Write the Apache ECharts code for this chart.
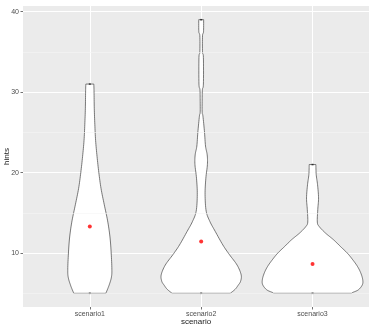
<!DOCTYPE html>
<html>
<head>
<meta charset="utf-8">
<script src="https://cdn.jsdelivr.net/npm/echarts@6/dist/echarts.min.js"></script>
<style>
  html, body { margin: 0; padding: 0; background: #fff; }
  #chart { width: 369px; height: 330px; }
</style>
</head>
<body>
<div id="chart"></div>
<script>
// Groups on the x axis
const categories = ['scenario1', 'scenario2', 'scenario3'];

// Violin outlines: hint levels and the half width of the violin at each level (x-axis units)
const scenario1Levels = [5, 6, 7, 8, 10, 12, 14, 16, 18, 20, 22, 24, 26, 28, 30, 31];
const scenario1Half   = [0.144, 0.173, 0.194, 0.198, 0.192, 0.181, 0.160, 0.130, 0.101, 0.081, 0.065, 0.052, 0.045, 0.040, 0.038, 0.036];

const scenario2Levels = [5, 5.5, 6, 6.5, 7.3, 8.5, 9.8, 11, 12.7, 13.9, 15.2, 17.3, 19.3, 21, 22.2, 23.3, 25, 27, 27.5, 29, 30.3, 31, 34.3, 35, 37, 37.5, 39];
const scenario2Half   = [0.261, 0.305, 0.332, 0.354, 0.359, 0.323, 0.254, 0.195, 0.126, 0.079, 0.045, 0.035, 0.042, 0.056, 0.054, 0.039, 0.030, 0.016, 0.009, 0.009, 0.011, 0.020, 0.020, 0.012, 0.012, 0.021, 0.022];

const scenario3Levels = [5, 5.1, 5.43, 6.05, 6.67, 7.5, 8.33, 9.17, 10, 10.8, 11.65, 12.5, 13.3, 13.85, 15.4, 16.85, 18.5, 19.75, 21];
const scenario3Half   = [0.350, 0.359, 0.411, 0.447, 0.451, 0.434, 0.404, 0.361, 0.312, 0.252, 0.189, 0.115, 0.060, 0.043, 0.047, 0.054, 0.045, 0.033, 0.030];

// Mean number of hints per scenario (red dots)
const meanHints = [13.3, 11.45, 8.63];
// Range of the observations (small dark marks at both ends)
const minHints = [5, 5, 5];
const maxHints = [31, 39, 21];

// Axis ticks
const yMajorTicks = [10, 20, 30, 40];
const yMinorTicks = [5, 15, 25, 35];
const xTicks = [1, 2, 3];

const profiles = [
  { levels: scenario1Levels, half: scenario1Half },
  { levels: scenario2Levels, half: scenario2Half },
  { levels: scenario3Levels, half: scenario3Half }
];

// Sample a Catmull-Rom curve through pixel points for a smooth outline
function smoothThrough(pts, steps) {
  const out = [];
  const n = pts.length;
  for (let i = 0; i < n - 1; i++) {
    const p0 = pts[Math.max(i - 1, 0)], p1 = pts[i], p2 = pts[i + 1], p3 = pts[Math.min(i + 2, n - 1)];
    for (let s = 0; s < steps; s++) {
      const t = s / steps, t2 = t * t, t3 = t2 * t;
      const pt = [0, 1].map(function (k) {
        const m1 = (p2[k] - p0[k]) / 2, m2 = (p3[k] - p1[k]) / 2;
        return (2 * t3 - 3 * t2 + 1) * p1[k] + (t3 - 2 * t2 + t) * m1 + (-2 * t3 + 3 * t2) * p2[k] + (t3 - t2) * m2;
      });
      out.push(pt);
    }
  }
  out.push(pts[n - 1]);
  return out;
}

function renderViolin(params, api) {
  const x = api.value(0);
  const prof = profiles[x - 1];
  const right = prof.levels.map(function (v, i) { return api.coord([x + prof.half[i], v]); });
  const left = prof.levels.map(function (v, i) { return api.coord([x - prof.half[i], v]); });
  const r = smoothThrough(right, 8);
  const l = smoothThrough(left, 8).reverse();
  return {
    type: 'polygon',
    shape: { points: r.concat(l) },
    style: { fill: '#ffffff', stroke: '#404040', lineWidth: 0.7 }
  };
}

const chart = echarts.init(document.getElementById('chart'), null, { renderer: 'canvas' });

const textFont = 'Liberation Sans, Arial, sans-serif';

chart.setOption({
  animation: false,
  backgroundColor: '#ffffff',
  grid: {
    left: 23, right: 0, top: 6, bottom: 23,
    outerBoundsMode: 'none',
    containLabel: false,
    show: true, backgroundColor: '#EBEBEB', borderWidth: 0
  },
  xAxis: {
    type: 'value',
    min: 0.4,
    max: 3.507,
    name: 'scenario',
    nameLocation: 'middle',
    nameGap: 10.5,
    nameMoveOverlap: false,
    nameTextStyle: { color: '#1a1a1a', fontSize: 8, fontFamily: textFont },
    axisLine: { show: false },
    axisTick: { show: true, customValues: xTicks, length: 2.5, lineStyle: { color: '#333333', width: 0.7 } },
    axisLabel: {
      customValues: xTicks,
      margin: 4,
      color: '#4D4D4D', fontSize: 7, fontFamily: textFont,
      formatter: function (v) { return categories[Math.round(v) - 1]; }
    },
    splitLine: { show: true, lineStyle: { color: '#ffffff', width: 1 } }
  },
  yAxis: {
    type: 'value',
    min: 3.3,
    max: 40.7,
    name: 'hints',
    nameLocation: 'middle',
    nameGap: 12,
    nameMoveOverlap: false,
    nameRotate: 90,
    nameTextStyle: { color: '#1a1a1a', fontSize: 8, fontFamily: textFont },
    axisLine: { show: false },
    axisTick: { show: true, customValues: yMajorTicks, length: 2.5, lineStyle: { color: '#333333', width: 0.7 } },
    axisLabel: {
      customValues: yMajorTicks,
      margin: 4,
      color: '#4D4D4D', fontSize: 7, fontFamily: textFont
    },
    splitLine: { show: true, lineStyle: { color: '#ffffff', width: 1 } }
  },
  series: [
    {
      // minor horizontal grid lines
      type: 'line',
      data: [[1, 5]],
      showSymbol: false,
      symbol: 'none',
      lineStyle: { opacity: 0 },
      z: 1,
      silent: true,
      markLine: {
        silent: true,
        symbol: 'none',
        label: { show: false },
        lineStyle: { color: '#F5F5F5', width: 0.6, type: 'solid' },
        data: yMinorTicks.map(function (v) { return { yAxis: v }; })
      }
    },
    {
      type: 'custom',
      renderItem: renderViolin,
      data: xTicks.map(function (x) { return [x]; }),
      encode: { x: 0 },
      z: 3
    },
    {
      type: 'scatter',
      symbol: 'rect',
      symbolSize: [2, 1.5],
      itemStyle: { color: '#1a1a1a' },
      data: xTicks.map(function (x, i) { return [x, minHints[i]]; })
        .concat(xTicks.map(function (x, i) { return [x, maxHints[i]]; })),
      z: 4
    },
    {
      type: 'scatter',
      symbol: 'circle',
      symbolSize: 4,
      itemStyle: { color: '#FF0000' },
      data: xTicks.map(function (x, i) { return [x, meanHints[i]]; }),
      z: 5
    }
  ]
});
</script>
</body>
</html>
